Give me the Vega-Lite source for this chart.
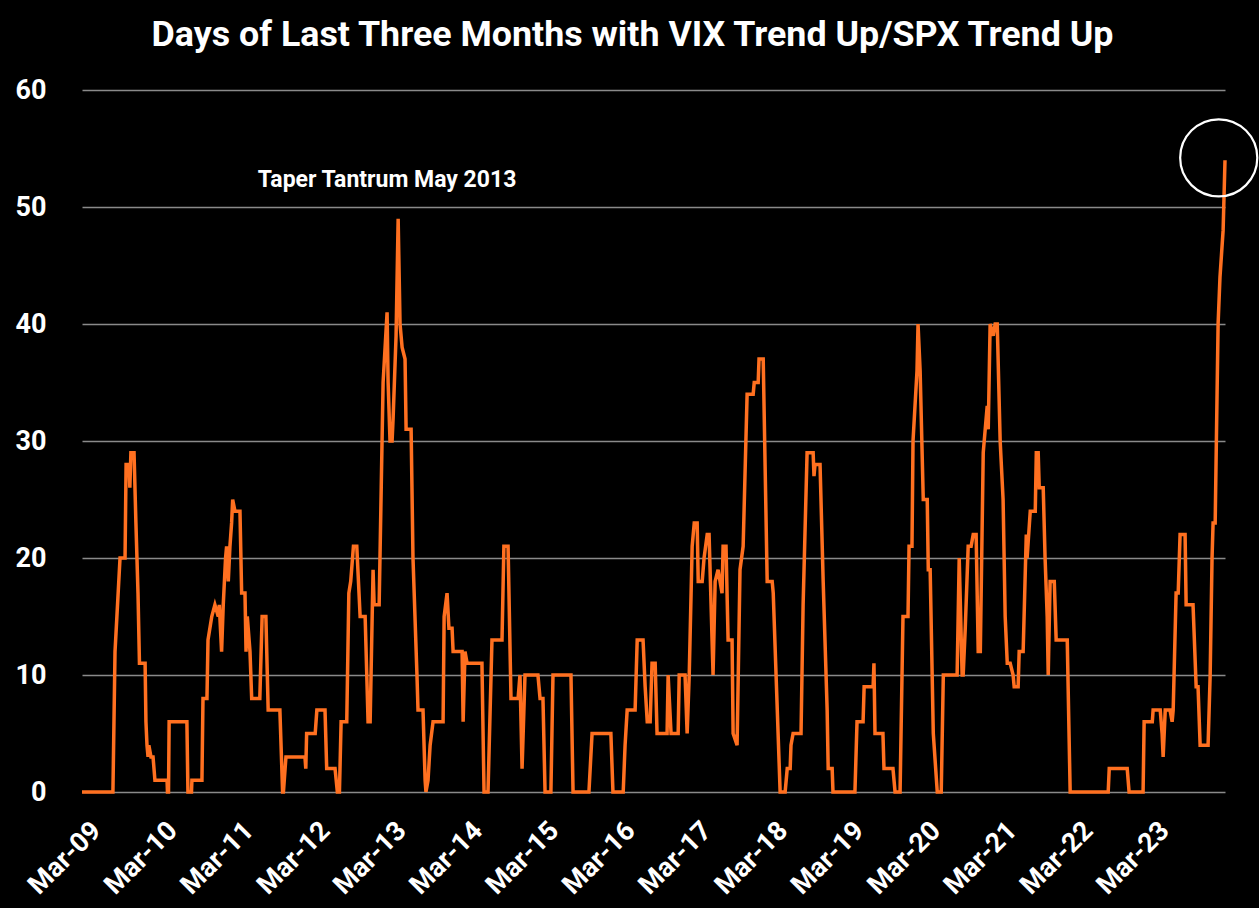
{
  "$schema": "https://vega.github.io/schema/vega-lite/v6.json",
  "width": 1143,
  "height": 702,
  "autosize": {"type": "none"},
  "padding": {"left": 82, "top": 90, "right": 34, "bottom": 116},
  "background": "#000000",
  "title": {
    "text": "Days of Last Three Months with VIX Trend Up/SPX Trend Up",
    "color": "#ffffff",
    "font": "Roboto",
    "fontSize": 35.8,
    "fontWeight": "bold",
    "anchor": "middle",
    "offset": 22,
    "dx": -21
  },
  "config": {
    "view": {"stroke": null},
    "axis": {"labelFont": "Roboto", "labelFontWeight": "bold", "labelColor": "#ffffff"}
  },
  "datasets": {
    "series": [
      {"date":"2009-03-01","days":0},{"date":"2009-07-27","days":0},{"date":"2009-08-06","days":12},{"date":"2009-08-30","days":20},
      {"date":"2009-09-23","days":20},{"date":"2009-09-28","days":28},{"date":"2009-10-12","days":28},{"date":"2009-10-16","days":26},
      {"date":"2009-10-21","days":29},{"date":"2009-11-05","days":29},{"date":"2009-11-14","days":23},{"date":"2009-11-24","days":17},
      {"date":"2009-12-01","days":11},{"date":"2009-12-28","days":11},{"date":"2010-01-01","days":6},{"date":"2010-01-06","days":4},
      {"date":"2010-01-11","days":3},{"date":"2010-01-15","days":4},{"date":"2010-01-25","days":3},{"date":"2010-02-04","days":3},
      {"date":"2010-02-13","days":1},{"date":"2010-04-12","days":1},{"date":"2010-04-14","days":0},{"date":"2010-04-19","days":0},
      {"date":"2010-04-22","days":6},{"date":"2010-07-16","days":6},{"date":"2010-07-21","days":0},{"date":"2010-08-07","days":0},
      {"date":"2010-08-09","days":1},{"date":"2010-09-26","days":1},{"date":"2010-10-01","days":8},{"date":"2010-10-20","days":8},
      {"date":"2010-10-25","days":13},{"date":"2010-11-12","days":15},{"date":"2010-11-27","days":16},{"date":"2010-12-13","days":15},
      {"date":"2010-12-18","days":16},{"date":"2010-12-29","days":12},{"date":"2011-01-06","days":16},{"date":"2011-01-17","days":20},
      {"date":"2011-01-22","days":21},{"date":"2011-01-30","days":18},{"date":"2011-02-07","days":21},{"date":"2011-02-15","days":23},
      {"date":"2011-02-20","days":25},{"date":"2011-03-03","days":24},{"date":"2011-03-27","days":24},{"date":"2011-04-04","days":17},
      {"date":"2011-04-20","days":17},{"date":"2011-04-25","days":12},{"date":"2011-05-01","days":15},{"date":"2011-05-14","days":12},
      {"date":"2011-05-22","days":8},{"date":"2011-06-30","days":8},{"date":"2011-07-11","days":15},{"date":"2011-07-29","days":15},
      {"date":"2011-08-09","days":7},{"date":"2011-10-04","days":7},{"date":"2011-10-17","days":0},{"date":"2011-10-21","days":0},
      {"date":"2011-11-02","days":3},{"date":"2012-02-01","days":3},{"date":"2012-02-05","days":2},{"date":"2012-02-09","days":5},
      {"date":"2012-03-21","days":5},{"date":"2012-03-29","days":7},{"date":"2012-05-07","days":7},{"date":"2012-05-15","days":2},
      {"date":"2012-06-24","days":2},{"date":"2012-07-05","days":0},{"date":"2012-07-15","days":0},{"date":"2012-07-23","days":6},
      {"date":"2012-08-19","days":6},{"date":"2012-08-29","days":17},{"date":"2012-09-07","days":18},{"date":"2012-09-20","days":21},
      {"date":"2012-10-06","days":21},{"date":"2012-10-22","days":15},{"date":"2012-11-15","days":15},{"date":"2012-11-29","days":6},
      {"date":"2012-12-09","days":6},{"date":"2012-12-23","days":19},{"date":"2012-12-28","days":16},{"date":"2013-01-21","days":16},
      {"date":"2013-01-31","days":26},{"date":"2013-02-09","days":35},{"date":"2013-02-28","days":41},{"date":"2013-03-05","days":35},
      {"date":"2013-03-14","days":30},{"date":"2013-03-24","days":30},{"date":"2013-03-29","days":32},{"date":"2013-04-12","days":39},
      {"date":"2013-04-22","days":49},{"date":"2013-05-01","days":40},{"date":"2013-05-11","days":38},{"date":"2013-05-25","days":37},
      {"date":"2013-05-30","days":31},{"date":"2013-06-23","days":31},{"date":"2013-07-02","days":20},{"date":"2013-07-21","days":10},
      {"date":"2013-07-26","days":7},{"date":"2013-08-19","days":7},{"date":"2013-08-29","days":1},{"date":"2013-09-02","days":0},
      {"date":"2013-09-12","days":1},{"date":"2013-09-22","days":4},{"date":"2013-10-06","days":6},{"date":"2013-11-23","days":6},
      {"date":"2013-11-28","days":15},{"date":"2013-12-12","days":17},{"date":"2013-12-21","days":14},{"date":"2014-01-05","days":14},
      {"date":"2014-01-10","days":12},{"date":"2014-02-22","days":12},{"date":"2014-02-27","days":6},{"date":"2014-03-08","days":12},
      {"date":"2014-03-18","days":11},{"date":"2014-05-28","days":11},{"date":"2014-06-07","days":0},{"date":"2014-06-26","days":0},
      {"date":"2014-07-15","days":13},{"date":"2014-09-01","days":13},{"date":"2014-09-10","days":21},{"date":"2014-09-30","days":21},
      {"date":"2014-10-14","days":8},{"date":"2014-11-17","days":8},{"date":"2014-11-26","days":10},{"date":"2014-12-06","days":2},
      {"date":"2014-12-20","days":10},{"date":"2015-02-20","days":10},{"date":"2015-03-02","days":8},{"date":"2015-03-16","days":8},
      {"date":"2015-03-26","days":0},{"date":"2015-04-23","days":0},{"date":"2015-05-03","days":10},{"date":"2015-07-28","days":10},
      {"date":"2015-08-07","days":0},{"date":"2015-10-22","days":0},{"date":"2015-11-06","days":5},{"date":"2016-02-04","days":5},
      {"date":"2016-02-14","days":0},{"date":"2016-04-03","days":0},{"date":"2016-04-12","days":4},{"date":"2016-04-22","days":7},
      {"date":"2016-05-30","days":7},{"date":"2016-06-09","days":13},{"date":"2016-07-07","days":13},{"date":"2016-07-17","days":9},
      {"date":"2016-07-27","days":6},{"date":"2016-08-10","days":6},{"date":"2016-08-19","days":11},{"date":"2016-09-03","days":11},
      {"date":"2016-09-12","days":5},{"date":"2016-10-30","days":5},{"date":"2016-11-04","days":10},{"date":"2016-11-18","days":5},
      {"date":"2016-12-22","days":5},{"date":"2016-12-27","days":10},{"date":"2017-01-24","days":10},{"date":"2017-02-03","days":5},
      {"date":"2017-02-13","days":10},{"date":"2017-02-27","days":21},{"date":"2017-03-09","days":23},{"date":"2017-03-23","days":23},
      {"date":"2017-03-28","days":18},{"date":"2017-04-16","days":18},{"date":"2017-04-25","days":20},{"date":"2017-05-10","days":22},
      {"date":"2017-05-19","days":22},{"date":"2017-06-07","days":10},{"date":"2017-06-17","days":18},{"date":"2017-07-01","days":19},
      {"date":"2017-07-20","days":17},{"date":"2017-07-25","days":21},{"date":"2017-08-08","days":21},{"date":"2017-08-18","days":13},
      {"date":"2017-09-06","days":13},{"date":"2017-09-11","days":5},{"date":"2017-09-30","days":4},{"date":"2017-10-14","days":19},
      {"date":"2017-10-29","days":21},{"date":"2017-11-17","days":34},{"date":"2017-12-16","days":34},{"date":"2017-12-21","days":35},
      {"date":"2018-01-09","days":35},{"date":"2018-01-13","days":37},{"date":"2018-02-02","days":37},{"date":"2018-02-21","days":18},
      {"date":"2018-03-17","days":18},{"date":"2018-03-22","days":17},{"date":"2018-04-24","days":0},{"date":"2018-05-18","days":0},
      {"date":"2018-05-28","days":2},{"date":"2018-06-11","days":2},{"date":"2018-06-15","days":4},{"date":"2018-06-25","days":5},
      {"date":"2018-08-02","days":5},{"date":"2018-08-12","days":16},{"date":"2018-08-31","days":29},{"date":"2018-09-29","days":29},
      {"date":"2018-10-03","days":27},{"date":"2018-10-08","days":28},{"date":"2018-11-01","days":28},{"date":"2018-11-16","days":18},
      {"date":"2018-12-05","days":7},{"date":"2018-12-10","days":2},{"date":"2018-12-29","days":2},{"date":"2019-01-02","days":0},
      {"date":"2019-04-17","days":0},{"date":"2019-04-27","days":6},{"date":"2019-05-26","days":6},{"date":"2019-05-31","days":9},
      {"date":"2019-07-13","days":9},{"date":"2019-07-17","days":11},{"date":"2019-07-22","days":5},{"date":"2019-08-29","days":5},
      {"date":"2019-09-03","days":2},{"date":"2019-10-16","days":2},{"date":"2019-10-26","days":0},{"date":"2019-11-19","days":0},
      {"date":"2019-12-03","days":15},{"date":"2019-12-27","days":15},{"date":"2020-01-01","days":21},{"date":"2020-01-15","days":21},
      {"date":"2020-01-20","days":30},{"date":"2020-02-08","days":36},{"date":"2020-02-13","days":40},{"date":"2020-02-23","days":36},
      {"date":"2020-03-09","days":25},{"date":"2020-03-28","days":25},{"date":"2020-04-02","days":19},{"date":"2020-04-11","days":19},
      {"date":"2020-04-26","days":5},{"date":"2020-05-15","days":0},{"date":"2020-06-03","days":0},{"date":"2020-06-13","days":10},
      {"date":"2020-08-18","days":10},{"date":"2020-08-28","days":20},{"date":"2020-09-11","days":10},{"date":"2020-09-16","days":10},
      {"date":"2020-09-26","days":14},{"date":"2020-10-10","days":21},{"date":"2020-10-24","days":21},{"date":"2020-11-03","days":22},
      {"date":"2020-11-17","days":22},{"date":"2020-11-27","days":12},{"date":"2020-12-07","days":12},{"date":"2020-12-21","days":29},
      {"date":"2021-01-09","days":33},{"date":"2021-01-14","days":31},{"date":"2021-01-23","days":40},{"date":"2021-02-07","days":39},
      {"date":"2021-02-16","days":40},{"date":"2021-02-26","days":40},{"date":"2021-03-12","days":30},{"date":"2021-03-26","days":25},
      {"date":"2021-04-05","days":15},{"date":"2021-04-15","days":11},{"date":"2021-04-29","days":11},{"date":"2021-05-13","days":10},
      {"date":"2021-05-18","days":9},{"date":"2021-06-06","days":9},{"date":"2021-06-11","days":12},{"date":"2021-06-30","days":12},
      {"date":"2021-07-15","days":22},{"date":"2021-07-19","days":20},{"date":"2021-08-03","days":24},{"date":"2021-08-27","days":24},
      {"date":"2021-09-01","days":29},{"date":"2021-09-10","days":29},{"date":"2021-09-15","days":26},{"date":"2021-10-04","days":26},
      {"date":"2021-10-13","days":20},{"date":"2021-10-23","days":15},{"date":"2021-10-28","days":10},{"date":"2021-11-06","days":18},
      {"date":"2021-11-26","days":18},{"date":"2021-12-05","days":13},{"date":"2022-01-27","days":13},{"date":"2022-02-10","days":0},
      {"date":"2022-08-11","days":0},{"date":"2022-08-16","days":2},{"date":"2022-11-10","days":2},{"date":"2022-11-19","days":0},
      {"date":"2023-01-25","days":0},{"date":"2023-01-30","days":6},{"date":"2023-03-10","days":6},{"date":"2023-03-14","days":7},
      {"date":"2023-04-17","days":7},{"date":"2023-04-26","days":5},{"date":"2023-05-01","days":3},{"date":"2023-05-11","days":7},
      {"date":"2023-06-03","days":7},{"date":"2023-06-13","days":6},{"date":"2023-06-18","days":7},{"date":"2023-07-02","days":17},
      {"date":"2023-07-12","days":17},{"date":"2023-07-21","days":22},{"date":"2023-08-14","days":22},{"date":"2023-08-19","days":16},
      {"date":"2023-09-21","days":16},{"date":"2023-10-06","days":9},{"date":"2023-10-15","days":9},{"date":"2023-10-25","days":4},
      {"date":"2023-12-02","days":4},{"date":"2023-12-12","days":10},{"date":"2023-12-21","days":20},{"date":"2023-12-26","days":23},
      {"date":"2024-01-05","days":23},{"date":"2024-01-14","days":34},{"date":"2024-01-19","days":40},{"date":"2024-01-28","days":44},
      {"date":"2024-02-12","days":48},{"date":"2024-02-21","days":54}
    ],
    "annotation": [
      {"date":"2013-02-28","days":51.7,"label":"Taper Tantrum May 2013"}
    ],
    "highlight": [
      {"date":"2024-01-22","days":54.2}
    ]
  },
  "encoding": {
    "x": {
      "field": "date",
      "type": "temporal",
      "scale": {
        "type": "utc",
        "domain": [
          {"year": 2009, "month": "Mar", "date": 1, "utc": true},
          {"year": 2024, "month": "Feb", "date": 21, "utc": true}
        ]
      },
      "axis": {
        "title": null,
        "format": "%b-%y",
        "values": [
          {"year": 2009, "month": "Mar", "date": 1, "utc": true},
          {"year": 2010, "month": "Mar", "date": 1, "utc": true},
          {"year": 2011, "month": "Mar", "date": 1, "utc": true},
          {"year": 2012, "month": "Mar", "date": 1, "utc": true},
          {"year": 2013, "month": "Mar", "date": 1, "utc": true},
          {"year": 2014, "month": "Mar", "date": 1, "utc": true},
          {"year": 2015, "month": "Mar", "date": 1, "utc": true},
          {"year": 2016, "month": "Mar", "date": 1, "utc": true},
          {"year": 2017, "month": "Mar", "date": 1, "utc": true},
          {"year": 2018, "month": "Mar", "date": 1, "utc": true},
          {"year": 2019, "month": "Mar", "date": 1, "utc": true},
          {"year": 2020, "month": "Mar", "date": 1, "utc": true},
          {"year": 2021, "month": "Mar", "date": 1, "utc": true},
          {"year": 2022, "month": "Mar", "date": 1, "utc": true},
          {"year": 2023, "month": "Mar", "date": 1, "utc": true}
        ],
        "labelAngle": -45,
        "labelAlign": "right",
        "labelBaseline": "top",
        "labelFontSize": 27,
        "labelPadding": 25,
        "labelOffset": 5,
        "labelOverlap": false,
        "labelFlush": false,
        "ticks": false,
        "tickSize": 0,
        "domain": false,
        "grid": false
      }
    },
    "y": {
      "field": "days",
      "type": "quantitative",
      "scale": {"domain": [0, 60], "nice": false},
      "axis": {
        "title": null,
        "values": [0, 10, 20, 30, 40, 50, 60],
        "labelFontSize": 27,
        "labelPadding": 36,
        "ticks": false,
        "tickSize": 0,
        "domain": false,
        "grid": true,
        "gridColor": "#8a8a8a",
        "gridWidth": 1.5
      }
    }
  },
  "layer": [
    {
      "data": {"name": "series"},
      "mark": {"type": "line", "color": "#FF7020", "strokeWidth": 3.5, "interpolate": "linear"}
    },
    {
      "data": {"name": "annotation"},
      "mark": {"type": "text", "color": "#ffffff", "font": "Roboto", "fontWeight": "bold", "fontSize": 23, "align": "center", "baseline": "alphabetic"},
      "encoding": {"text": {"field": "label"}}
    },
    {
      "data": {"name": "highlight"},
      "mark": {"type": "point", "shape": "circle", "filled": false, "size": 5950, "stroke": "#ffffff", "strokeWidth": 2.2, "opacity": 1, "clip": false}
    }
  ]
}
